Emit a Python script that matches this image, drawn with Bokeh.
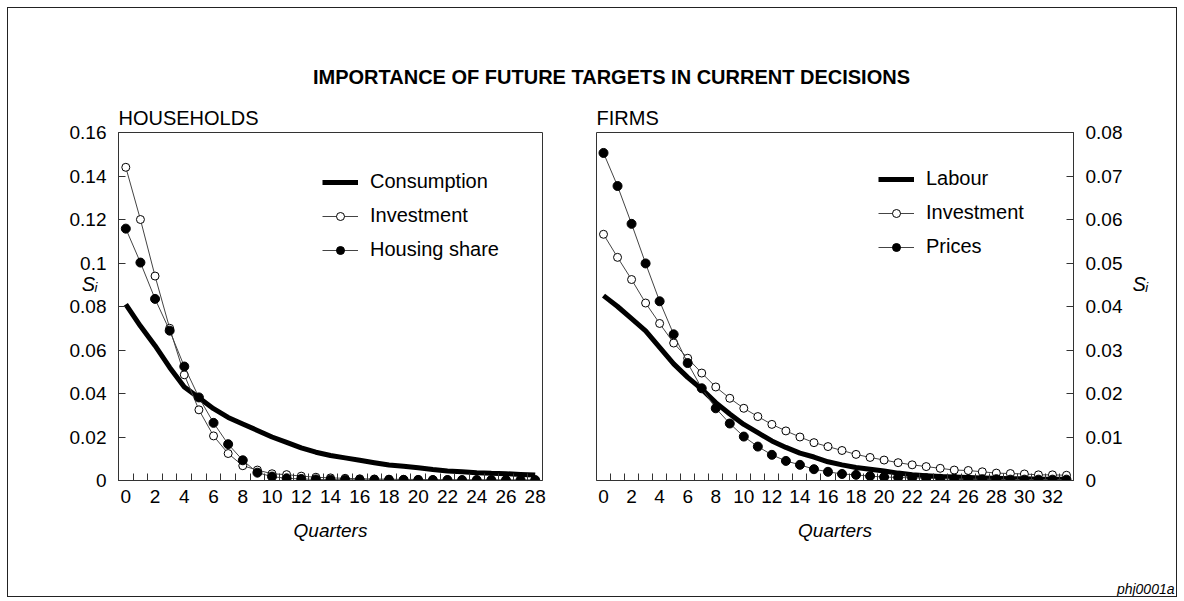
from bokeh.plotting import figure
from bokeh.models import FixedTicker, Label, Legend, LegendItem, Range1d, LinearAxis
from bokeh.layouts import column, row
from bokeh.embed import file_html
from bokeh.resources import INLINE

# ---------------- data ----------------
main_title = "IMPORTANCE OF FUTURE TARGETS IN CURRENT DECISIONS"
panel_titles = ["HOUSEHOLDS", "FIRMS"]
x_label = "Quarters"
y_label = "S\u1d62"
footer = "phj0001a"

quarters_h = list(range(29))
consumption = [0.081, 0.071, 0.062, 0.052, 0.043, 0.038, 0.033, 0.029, 0.026, 0.023,
               0.020, 0.0175, 0.015, 0.013, 0.0115, 0.0104, 0.0093, 0.0082, 0.0071, 0.0065,
               0.0059, 0.0051, 0.0044, 0.0040, 0.0036, 0.0033, 0.0031, 0.0028, 0.0025]
investment_h = [0.144, 0.120, 0.094, 0.070, 0.0486, 0.0325, 0.0205, 0.0124, 0.0068, 0.0048,
                0.0031, 0.0027, 0.0020, 0.0015, 0.0012, 0.0010, 0.0008, 0.0007, 0.0006, 0.0005,
                0.0005, 0.0004, 0.0004, 0.0003, 0.0003, 0.0003, 0.0002, 0.0002, 0.0002]
housing = [0.1158, 0.1002, 0.0835, 0.0689, 0.0524, 0.0382, 0.0265, 0.0167, 0.0093, 0.0036,
           0.0018, 0.0010, 0.0007, 0.0005, 0.0004, 0.0004, 0.0003, 0.0003, 0.0003, 0.0003,
           0.0002, 0.0002, 0.0002, 0.0002, 0.0002, 0.0002, 0.0002, 0.0002, 0.0002]

quarters_f = list(range(34))
labour = [0.0425, 0.0400, 0.0372, 0.0344, 0.0306, 0.0268, 0.0237, 0.0210, 0.0179, 0.0153,
          0.0129, 0.0110, 0.0091, 0.0076, 0.0063, 0.0054, 0.0043, 0.0036, 0.0030, 0.0026,
          0.0022, 0.0017, 0.0013, 0.0011, 0.0009, 0.0008, 0.0007, 0.0006, 0.0005, 0.0004,
          0.0004, 0.0003, 0.0003, 0.0003]
investment_f = [0.0566, 0.0513, 0.0462, 0.0408, 0.0361, 0.0316, 0.0281, 0.0247, 0.0215, 0.0189,
                0.0166, 0.0147, 0.0129, 0.0114, 0.0100, 0.0087, 0.0078, 0.0069, 0.0060, 0.0053,
                0.0047, 0.0041, 0.0036, 0.0032, 0.0028, 0.0024, 0.0023, 0.0020, 0.0017, 0.0016,
                0.0015, 0.0013, 0.0013, 0.0012]
prices = [0.0753, 0.0677, 0.0590, 0.0499, 0.0412, 0.0336, 0.0270, 0.0212, 0.0166, 0.0131,
          0.0101, 0.0078, 0.0059, 0.0045, 0.0036, 0.0026, 0.0020, 0.0015, 0.0013, 0.0010,
          0.0008, 0.0007, 0.0006, 0.0005, 0.0004, 0.0004, 0.0003, 0.0003, 0.0003, 0.0002,
          0.0002, 0.0002, 0.0002, 0.0002]

y_ticks_h = [0, 0.02, 0.04, 0.06, 0.08, 0.1, 0.12, 0.14, 0.16]
y_labels_h = ["0", "0.02", "0.04", "0.06", "0.08", "0.1", "0.12", "0.14", "0.16"]
y_ticks_f = [0, 0.01, 0.02, 0.03, 0.04, 0.05, 0.06, 0.07, 0.08]
y_labels_f = ["0", "0.01", "0.02", "0.03", "0.04", "0.05", "0.06", "0.07", "0.08"]

legend_h = ["Consumption", "Investment", "Housing share"]
legend_f = ["Labour", "Investment", "Prices"]

FONT = "Liberation Sans"
INK = "#000000"
AXC = "#333333"
FS = "19px"
LFS = "20px"


def style_axes(xa, ya, n, yt, yl):
    xa.ticker = FixedTicker(ticks=list(range(0, n, 2)),
                            minor_ticks=[i + 0.5 for i in range(n - 1)])
    xa.major_tick_line_color = None
    xa.major_tick_in = 0
    xa.major_tick_out = 0
    xa.minor_tick_in = 7
    xa.minor_tick_out = 0
    xa.minor_tick_line_color = AXC
    xa.axis_line_color = AXC
    xa.major_label_text_font = FONT
    xa.major_label_text_font_size = FS
    xa.major_label_text_color = INK
    xa.major_label_standoff = 9
    xa.axis_label = x_label
    xa.axis_label_text_font = FONT
    xa.axis_label_text_font_style = "italic"
    xa.axis_label_text_font_size = FS
    xa.axis_label_text_color = INK
    xa.axis_label_standoff = 14
    ya.ticker = FixedTicker(ticks=yt, minor_ticks=[])
    ya.major_label_overrides = {t: l for t, l in zip(yt, yl)}
    ya.major_tick_in = 7
    ya.major_tick_out = 0
    ya.major_tick_line_color = AXC
    ya.minor_tick_line_color = None
    ya.axis_line_color = AXC
    ya.major_label_text_font = FONT
    ya.major_label_text_font_size = FS
    ya.major_label_text_color = INK
    ya.major_label_standoff = 12


def make_panel(x, thick, openv, filled, ymax, yt, yl, names, title, side, legloc,
               width, mbl, mbr, si_y, si_standoff):
    p = figure(width=width, height=478, output_backend="svg", toolbar_location=None,
               x_range=Range1d(-0.5, len(x) - 0.5), y_range=Range1d(0, ymax),
               y_axis_location=side, min_border_left=mbl, min_border_right=mbr,
               min_border_top=32, min_border_bottom=98)
    p.grid.visible = False
    p.outline_line_color = AXC
    p.outline_line_width = 1
    p.background_fill_color = "white"
    p.border_fill_color = "white"
    style_axes(p.xaxis[0], p.yaxis[0], len(x), yt, yl)

    p.title.text = title
    p.title.align = "left"
    p.title.offset = 0
    p.title.standoff = 7
    p.title.text_font = FONT
    p.title.text_font_size = LFS
    p.title.text_font_style = "normal"
    p.title.text_color = INK

    # S_i label as an outer axis carrying a single labelled position
    si_ax = LinearAxis(ticker=FixedTicker(ticks=[si_y], minor_ticks=[]),
                       major_label_overrides={si_y: y_label},
                       axis_line_color=None, major_tick_line_color=None,
                       minor_tick_line_color=None, major_tick_in=0, major_tick_out=0,
                       major_label_standoff=si_standoff, major_label_text_font=FONT,
                       major_label_text_font_style="italic",
                       major_label_text_font_size="20px", major_label_text_color=INK)
    p.add_layout(si_ax, side)

    p.line(x, thick, line_color=INK, line_width=5)
    p.line(x, openv, line_color="#444444", line_width=1)
    p.scatter(x, openv, size=8, marker="circle", fill_color="white", line_color=INK, line_width=1)
    p.line(x, filled, line_color="#444444", line_width=1)
    p.scatter(x, filled, size=9, marker="circle", fill_color=INK, line_color=INK, line_width=1)

    # legend sample glyphs (single point placed off the visible range)
    off = [-100.0]
    g1 = p.line(off, off, line_color=INK, line_width=5)
    g2a = p.line(off, off, line_color="#444444", line_width=1)
    g2b = p.scatter(off, off, size=6, fill_color="white", line_color=INK)
    g3a = p.line(off, off, line_color="#444444", line_width=1)
    g3b = p.scatter(off, off, size=7, fill_color=INK, line_color=INK)
    leg = Legend(items=[LegendItem(label=names[0], renderers=[g1]),
                        LegendItem(label=names[1], renderers=[g2a, g2b]),
                        LegendItem(label=names[2], renderers=[g3a, g3b])],
                 location=legloc, glyph_width=36, glyph_height=20, label_height=20,
                 spacing=11, padding=0, margin=0, border_line_color=None,
                 background_fill_alpha=0, label_text_font=FONT, label_text_font_size=LFS,
                 label_standoff=12, label_text_color=INK)
    p.add_layout(leg)
    return p


left = make_panel(quarters_h, consumption, investment_h, housing, 0.16, y_ticks_h, y_labels_h,
                  legend_h, panel_titles[0], "left", (204, 219), 582, 110, 48, 0.0905, -31)
right = make_panel(quarters_f, labour, investment_f, prices, 0.08, y_ticks_f, y_labels_f,
                   legend_f, panel_titles[1], "right", (282, 222), 586, 6, 103, 0.04525, 7)

# header strip: main title
top = figure(width=1168, height=92, output_backend="svg", toolbar_location=None,
             x_range=Range1d(0, 1168), y_range=Range1d(0, 92), min_border=0)
top.axis.visible = False
top.grid.visible = False
top.outline_line_color = None
top.add_layout(Label(x=603, y=24, text=main_title, text_font=FONT, text_font_style="bold",
                     text_font_size="20px", text_align="center", text_baseline="middle",
                     text_color=INK))

# footer strip
bottom = figure(width=1168, height=18, output_backend="svg", toolbar_location=None,
                x_range=Range1d(0, 1168), y_range=Range1d(0, 18), min_border=0)
bottom.axis.visible = False
bottom.grid.visible = False
bottom.outline_line_color = None
bottom.add_layout(Label(x=1166, y=8, text=footer, text_font=FONT, text_font_style="italic",
                        text_font_size="14px", text_align="right", text_baseline="middle",
                        text_color=INK))

layout = column(top, row(left, right), bottom, spacing=0, margin=(7, 0, 0, 7),
                styles={"border": "1px solid #222"})

open("out.html", "w").write(file_html(layout, INLINE))
